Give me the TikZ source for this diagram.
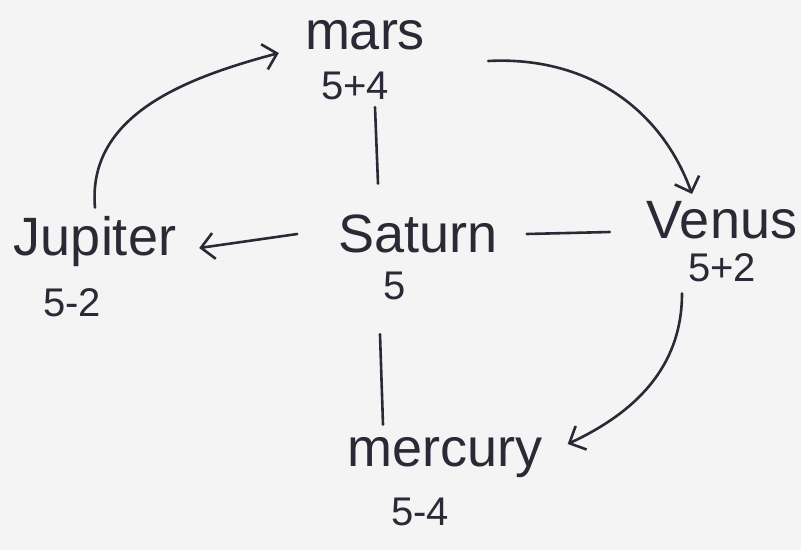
\documentclass[tikz,border=0pt]{standalone}
\usepackage{fontspec}
\setmainfont{Liberation Sans}
\usetikzlibrary{arrows.meta}
\definecolor{ink}{HTML}{2A2A36}
\definecolor{paper}{HTML}{F4F4F4}
\begin{document}
\begin{tikzpicture}[x=1pt,y=1pt,
  planet/.style={text=ink,inner sep=1pt,font=\fontsize{54}{58}\selectfont},
  num/.style={text=ink,inner sep=1pt,font=\fontsize{40}{44}\selectfont},
  link/.style={draw=ink,line width=2.6pt,line cap=round},
  arr/.style={link,-{Straight Barb[length=13pt,width=26pt,line width=2.6pt]}}]
\fill[paper] (0,0) rectangle (801,550);
\useasboundingbox (0,0) rectangle (801,550);
\node[planet] (mars) at (365,515) {mars};
\node[num] (marsn) at (355,464) {5+4};
\node[planet] (venus) at (722,330) {Venus};
\node[num] (venusn) at (722,282) {5+2};
\node[planet] (saturn) at (418,316) {Saturn};
\node[num] (saturnn) at (395,264) {5};
\node[planet] (jupiter) at (95,308) {Jupiter};
\node[num] (jupitern) at (72,247) {5-2};
\node[planet] (mercury) at (445,92) {mercury};
\node[num] (mercuryn) at (420,38) {5-4};
\draw[arr] ([yshift=8pt]jupiter.north) to[out=95,in=195] ([xshift=-25pt,yshift=-18pt]mars.west);
\draw[arr] ([xshift=62pt,yshift=-26pt]mars.east) to[out=3,in=110] ([xshift=-30pt,yshift=6pt]venus.north);
\draw[arr] ([xshift=-40pt,yshift=-10pt]venusn.south) to[out=-90,in=25] ([xshift=24pt,yshift=14pt]mercury.east);
\draw[link] ([xshift=20pt,yshift=-6pt]marsn.south) -- ([xshift=-40pt,yshift=30pt]saturn.north);
\draw[arr] ([xshift=-40pt]saturn.west) -- ([xshift=22pt,yshift=-6pt]jupiter.east);
\draw[link] ([xshift=28pt]saturn.east) -- ([xshift=-36pt,yshift=-12pt]venus.west);
\draw[link] ([xshift=-15pt,yshift=-33pt]saturnn.south) -- ([xshift=-62pt,yshift=12pt]mercury.north);
\end{tikzpicture}
\end{document}
